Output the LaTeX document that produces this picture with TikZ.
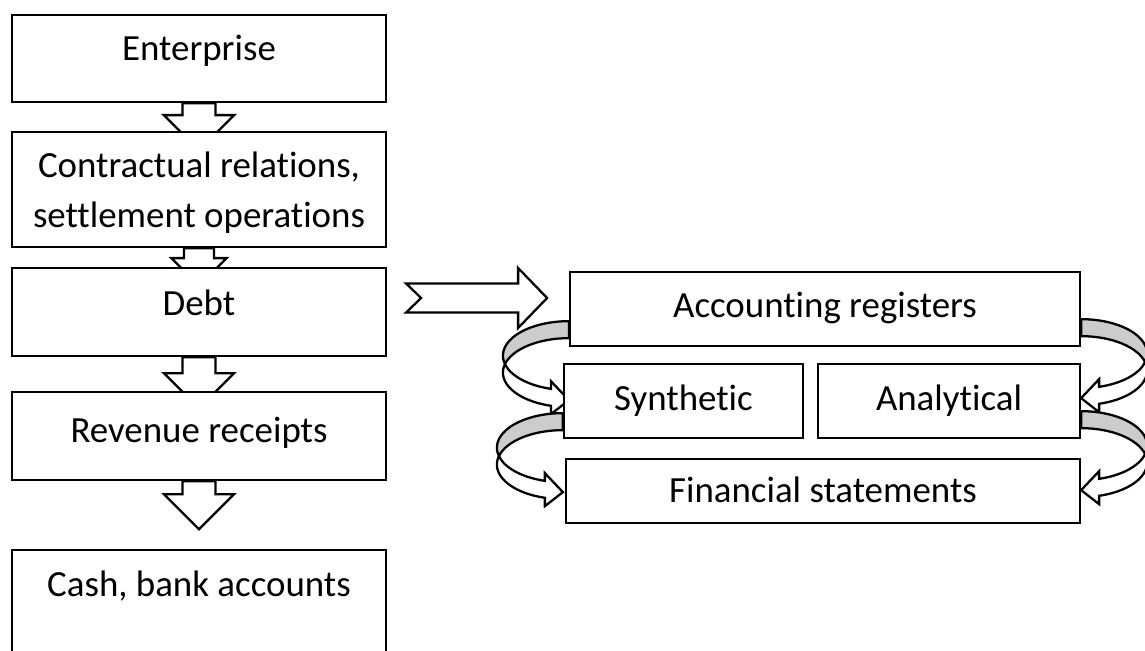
\documentclass[tikz,border=0pt]{standalone}
\usepackage{fontspec}
\setmainfont{Carlito}[Ligatures={NoCommon}]
\usetikzlibrary{calc,backgrounds}

\tikzset{
  box/.style={draw, fill=white, line width=1.3pt, inner sep=0pt,
    text height=0.47cm, text depth=0pt, font=\fontsize{21}{27.9}\selectfont},
  lift/.style={text depth=#1},
  hollow/.style={draw, fill=white, line width=1.3pt, line join=miter},
  backband/.style={draw, fill=gray!40, line width=1.3pt},
}

% block arrow pointing down: anchor, shaft length, shaft half width, head half width, head length
\newcommand{\blockdown}[5]{%
  \draw[hollow] ([shift={(-#3,0)}]#1) -- ++(0,#2) -- ++({#3-#4},0) -- ++(#4,#5)
    -- ++(#4,-#5) -- ++({#3-#4},0) -- ++(0,-#2) -- cycle;}

% curved arrow, back side grey: anchor at top of band, direction (1 left, -1 right)
\newcommand{\curvedarrow}[2]{%
  \begin{scope}[shift={(#1)}, xscale=#2]
    \draw[backband] (0,0) arc[start angle=270, end angle=165.74, x radius=66, y radius=34.5]
      arc[start angle=194.26, end angle=270, x radius=66, y radius=34.5] -- cycle;
    \draw[hollow] (-63.97,42.96) arc[start angle=194.26, end angle=105.83, x radius=66, y radius=34.5]
      -- (-18,93) -- (0,79) -- (-18,60) -- (-18,67.69)
      arc[start angle=105.83, end angle=165.74, x radius=66, y radius=34.5] -- cycle;
  \end{scope}}

\begin{document}
\begin{tikzpicture}[x=0.02cm, y=-0.02cm]
\useasboundingbox (0,0) rectangle (1145,650);
\clip (0,0) rectangle (1145,650);

% left column
\node[box, lift=0.4cm, minimum width=7.48cm, minimum height=1.74cm] (enterprise) at (199,58.5) {Enterprise};
\node[box, align=center, text height=1.5cm, minimum width=7.48cm, minimum height=2.3cm] (contract) at (199,189.5)
  {Contractual relations,\\settlement operations};
\node[box, lift=0.34cm, minimum width=7.48cm, minimum height=1.76cm] (debt) at (199,312) {Debt};
\node[box, lift=0.2cm, minimum width=7.48cm, minimum height=1.76cm] (revenue) at (199,436) {Revenue receipts};
\node[box, lift=0.8cm, minimum width=7.48cm, minimum height=2.2cm] (cash) at (199,605) {Cash, bank accounts};

% right column
\node[box, lift=0.14cm, minimum width=10.2cm, minimum height=1.48cm] (registers) at (825,309) {Accounting registers};
\node[box, lift=0.08cm, minimum width=4.78cm, minimum height=1.48cm] (synthetic) at (683.5,401) {Synthetic};
\node[box, lift=0.08cm, minimum width=5.24cm, minimum height=1.48cm] (analytical) at (949,401) {Analytical};
\node[box, minimum width=10.28cm, minimum height=1.28cm] (statements) at (823,491) {Financial statements};

\coordinate (ntail) at ($(debt.east)+(19,-14)$);
\coordinate (regl) at ($(registers.south west)+(0,-26)$);
\coordinate (regr) at ($(registers.south east)+(0,-28)$);
\coordinate (synl) at ($(synthetic.south west)+(0,-26)$);
\coordinate (anar) at ($(analytical.south east)+(0,-28)$);

\begin{scope}[on background layer]
\blockdown{enterprise.south}{12}{16.5}{35}{35}
\blockdown{contract.south}{10}{15}{27.5}{27.5}
\blockdown{debt.south}{16}{16.5}{35}{35}
\blockdown{revenue.south}{13}{16.5}{35}{35}
\draw[hollow] ($(ntail)+(0,-14.5)$) -- ++(112,0) -- ++(0,-15.5) -- ++(29,30) -- ++(-29,30)
  -- ++(0,-15.5) -- ++(-112,0) -- ++(15,-14.5) -- cycle;
\curvedarrow{regl}{1}
\curvedarrow{synl}{1}
\curvedarrow{regr}{-1}
\curvedarrow{anar}{-1}
\end{scope}
\end{tikzpicture}
\end{document}
